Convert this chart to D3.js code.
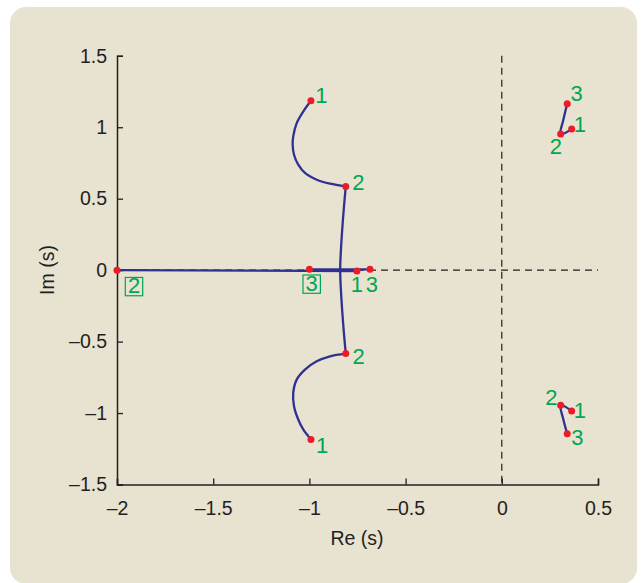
<!DOCTYPE html>
<html>
<head>
<meta charset="utf-8">
<script src="https://cdn.jsdelivr.net/npm/d3@7"></script>
<style>
	body { margin: 0; background: #fff; }
	svg { display: block; font-family: "Liberation Sans", Arial, sans-serif; }
</style>
</head>
<body>
<script>
//////////////////////////////////////////////
// Data //////////////////////////////////////
//////////////////////////////////////////////
// root locus branches, [Re, Im]
var centerUpper = [
	[-0.992, 1.185], [-1.032, 1.110], [-1.066, 1.029], [-1.084, 0.936], [-1.087, 0.878],
	[-1.080, 0.808], [-1.058, 0.738], [-1.023, 0.680], [-0.962, 0.633], [-0.893, 0.605], [-0.811, 0.586]
];
var centerStem = [
	[-0.811, 0.586], [-0.823, 0.400], [-0.835, 0.167], [-0.840, 0.000],
	[-0.835, -0.167], [-0.823, -0.400], [-0.811, -0.584]
];
var centerLower = [
	[-0.811, -0.584], [-0.893, -0.603], [-0.962, -0.638], [-1.023, -0.696], [-1.066, -0.766],
	[-1.084, -0.859], [-1.080, -0.952], [-1.058, -1.045], [-1.032, -1.115], [-0.992, -1.185]
];
var realBranchA = [[-2, 0], [-0.753, -0.006]];
var realBranchB = [[-1, 0.006], [-0.685, 0.006]];
var rightUpper = [[0.363, 0.987], [0.306, 0.952], [0.320, 1.052], [0.340, 1.164]];
var rightLower = [[0.363, -0.985], [0.306, -0.945], [0.320, -1.045], [0.340, -1.145]];

// marked points and their labels
var markRe    = [-0.992, -0.811, -0.811, -0.992, 0.340, 0.363, 0.306, 0.306, 0.363, 0.340, -1, -0.753, -0.685, -2];
var markIm    = [1.185, 0.586, -0.584, -1.185, 1.164, 0.987, 0.952, -0.945, -0.985, -1.145, 0.006, -0.006, 0.006, 0];
var markText  = ["1", "2", "2", "1", "3", "1", "2", "2", "1", "3", "3", "1", "3", "2"];
var markBoxed = [false, false, false, false, false, false, false, false, false, false, true, false, false, true];

// ticks
var xTicks = [-2, -1.5, -1, -0.5, 0, 0.5];
var yTicks = [-1.5, -1, -0.5, 0, 0.5, 1, 1.5];

//////////////////////////////////////////////
// Chart Config /////////////////////////////
//////////////////////////////////////////////
var W = 644, H = 583;
var green = "#00a651", blue = "#2e3192", red = "#ed1c24", ink = "#231f20";

// label offsets from their point (centre x, baseline y)
var labelOffsets = [
	[10.5, 2], [12.6, 3.5], [12.8, 10.8], [11.3, 13.4], [9.4, -3], [8.3, 2.7], [-4.7, 20],
	[-9.4, 0.2], [8.3, 7.5], [10.2, 11.4], [2.3, 21.7], [0, 21.3], [1.8, 23], [17, 23.3]
];

var xScale = d3.scaleLinear().domain([-2, 0.5]).range([117, 598]);
var yScale = d3.scaleLinear().domain([-1.5, 1.5]).range([484.5, 55.8]);

var fmt = function(d) { return d < 0 ? "\u2013" + d3.format("")(-d) : d3.format("")(d); };

var xAxis = d3.axisBottom(xScale).tickValues(xTicks).tickSize(-6).tickPadding(17).tickFormat(fmt);
var yAxis = d3.axisLeft(yScale).tickValues(yTicks).tickSize(-6).tickPadding(10).tickFormat(fmt);

var svg = d3.select("body").append("svg")
	.attr("width", W)
	.attr("height", H);

// panel
svg.append("rect")
	.attr("x", 10).attr("y", 7)
	.attr("width", 627).attr("height", 577)
	.attr("rx", 16)
	.attr("fill", "#e8e2d1");

//////////////////////////////////////////////
// Drawing ///////////////////////////////////
//////////////////////////////////////////////
// dashed zero lines
svg.append("line")
	.attr("x1", xScale(-2)).attr("x2", xScale(0.5))
	.attr("y1", yScale(0)).attr("y2", yScale(0))
	.attr("stroke", ink).attr("stroke-width", 1.2).attr("stroke-dasharray", "7,5");
svg.append("line")
	.attr("x1", xScale(0)).attr("x2", xScale(0))
	.attr("y1", yScale(1.5)).attr("y2", yScale(-1.5))
	.attr("stroke", ink).attr("stroke-width", 1.2).attr("stroke-dasharray", "7,5");

// axes
var xAxisEl = svg.append("g")
	.attr("transform", "translate(0," + yScale(-1.5) + ")")
	.call(xAxis);
var yAxisEl = svg.append("g")
	.attr("transform", "translate(" + xScale(-2) + ",0)")
	.call(yAxis);

[xAxisEl, yAxisEl].forEach(function(g) {
	g.select(".domain").attr("stroke", ink).attr("stroke-width", 1.5);
	g.selectAll(".tick line").attr("stroke", ink).attr("stroke-width", 1.3);
	g.selectAll(".tick text").attr("fill", ink).style("font-size", "19.5px").style("font-family", "Liberation Sans, Arial, sans-serif");
});

// axis titles
svg.append("text")
	.attr("x", 357).attr("y", 545)
	.attr("text-anchor", "middle")
	.attr("fill", ink).style("font-size", "19.5px")
	.text("Re (s)");
svg.append("text")
	.attr("transform", "translate(54,270) rotate(-90)")
	.attr("text-anchor", "middle")
	.attr("fill", ink).style("font-size", "19.5px")
	.text("Im (s)");

// branches
var line = d3.line()
	.x(function(d) { return xScale(d[0]); })
	.y(function(d) { return yScale(d[1]); })
	.curve(d3.curveCatmullRom);

[realBranchA, realBranchB, centerUpper, centerStem, centerLower, rightUpper, rightLower].forEach(function(b) {
	svg.append("path")
		.datum(b)
		.attr("d", line)
		.attr("fill", "none")
		.attr("stroke", blue)
		.attr("stroke-width", 2.3);
});

// points
var marks = markRe.map(function(r, i) {
	return {re: r, im: markIm[i], text: markText[i], boxed: markBoxed[i], off: labelOffsets[i]};
});

svg.selectAll("circle.mark")
	.data(marks)
	.enter().append("circle")
	.attr("class", "mark")
	.attr("cx", function(d) { return xScale(d.re); })
	.attr("cy", function(d) { return yScale(d.im); })
	.attr("r", 3.5)
	.attr("fill", red);

// labels
var labels = svg.selectAll("g.label")
	.data(marks)
	.enter().append("g")
	.attr("class", "label")
	.attr("transform", function(d) {
		return "translate(" + (xScale(d.re) + d.off[0]) + "," + (yScale(d.im) + d.off[1]) + ")";
	});

labels.filter(function(d) { return d.boxed; })
	.append("rect")
	.attr("x", -8.7).attr("y", -16)
	.attr("width", 17.4).attr("height", 18.3)
	.attr("fill", "none")
	.attr("stroke", green)
	.attr("stroke-width", 1.2);

labels.append("text")
	.attr("text-anchor", "middle")
	.attr("fill", green)
	.style("font-size", "22px")
	.text(function(d) { return d.text; });
</script>
</body>
</html>
